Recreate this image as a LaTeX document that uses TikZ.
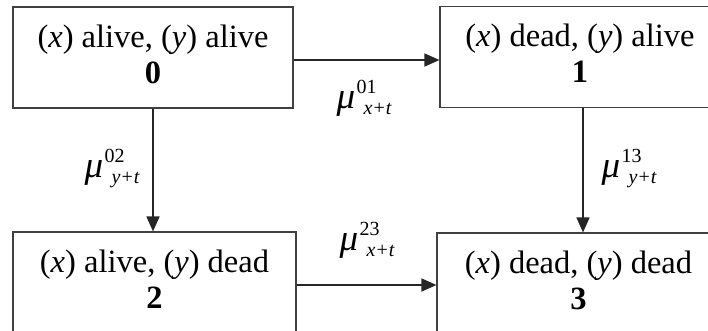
\documentclass[tikz,border=0pt]{standalone}
\usepackage{fontspec}
\setmainfont{Liberation Serif}
\usetikzlibrary{arrows.meta}
\newcommand{\murate}[2]{{\fontsize{37}{37}\selectfont\itshape μ}\kern1.5pt\rlap{\raisebox{15pt}{\fontsize{20}{20}\selectfont\upshape #1}}\kern7pt\raisebox{-6pt}{\fontsize{20}{20}\selectfont\itshape #2}}
\begin{document}
\begin{tikzpicture}[x=1pt,y=-1pt,
  state/.style={draw=black!75, line width=1.1pt, minimum height=101pt, inner sep=0pt, align=center, font=\fontsize{32.5}{36}\selectfont},
  flow/.style={-{Triangle[length=15pt,width=13pt]}, line width=1.6pt, draw=black!85, fill=black!85},
  rate/.style={inner sep=0pt}]
\useasboundingbox (0,0) rectangle (708,330);
\clip (0,0) rectangle (708,330);
\node[state, minimum width=280pt] (s0) at (153,57.5) {(\textit{x}) alive, (\textit{y}) alive\\\textbf{0}\rule[-7pt]{0pt}{7pt}};
\node[state, minimum width=280pt] (s1) at (580,57) {(\textit{x}) dead, (\textit{y}) alive\\\textbf{1}\rule[-7pt]{0pt}{7pt}};
\node[state, minimum width=283pt] (s2) at (154.5,282.5) {(\textit{x}) alive, (\textit{y}) dead\\\textbf{2}\rule[-7pt]{0pt}{7pt}};
\node[state, minimum width=283pt] (s3) at (578.5,283.5) {(\textit{x}) dead, (\textit{y}) dead\\\textbf{3}\rule[-7pt]{0pt}{7pt}};
\draw[flow] ([yshift=-2.5pt]s0.east) -- ([yshift=-2.5pt]s0.east -| s1.west);
\draw[flow] (s0.south) -- (s0.south |- s2.north);
\draw[flow] ([xshift=3pt]s1.south) -- ([xshift=3pt]s1.south |- s3.north);
\draw[flow] ([yshift=-2.5pt]s2.east) -- ([yshift=-2.5pt]s2.east -| s3.west);
\node[rate] (r01) at (364,98) {\murate{01}{x+t}};
\node[rate] (r02) at (112,168.5) {\murate{02}{y+t}};
\node[rate] (r13) at (629,168.5) {\murate{13}{y+t}};
\node[rate] (r23) at (367,240) {\murate{23}{x+t}};
\end{tikzpicture}
\end{document}
